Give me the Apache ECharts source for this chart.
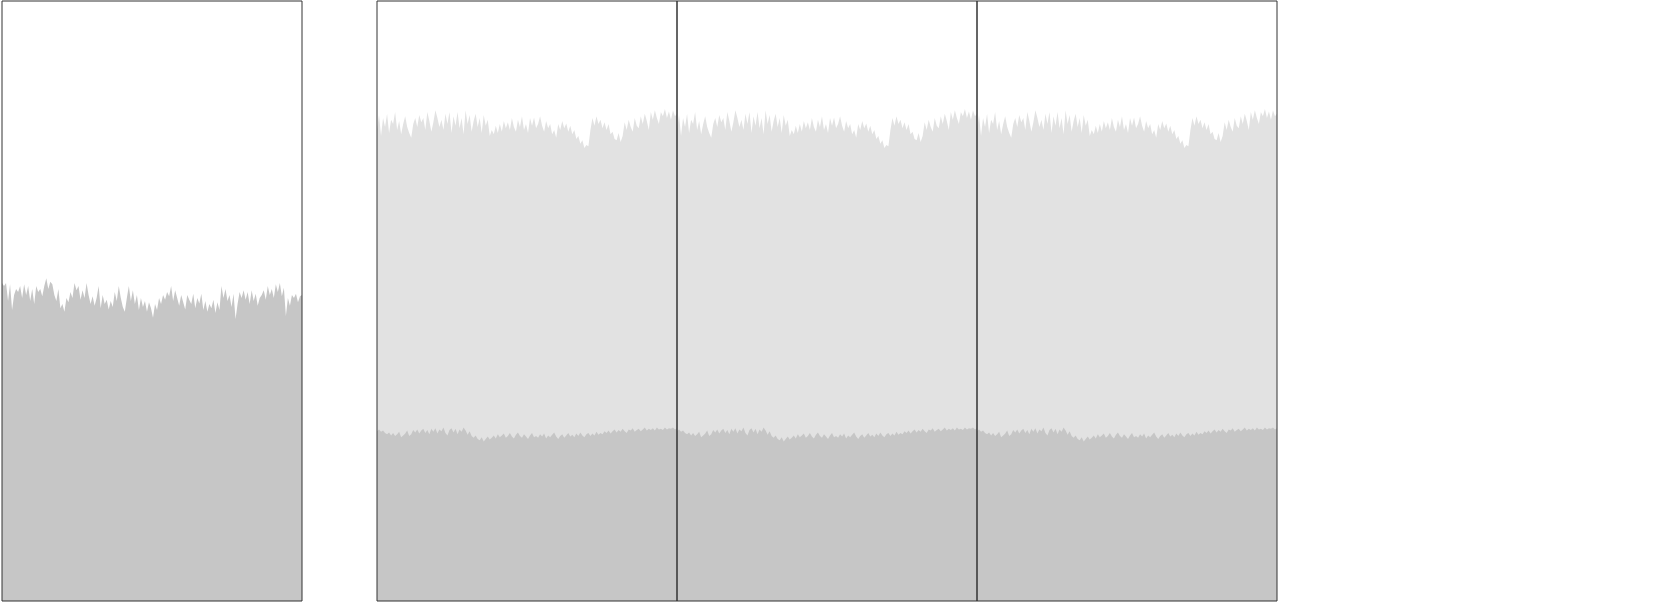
<!DOCTYPE html>
<html>
<head>
<meta charset="utf-8">
<script src="https://cdn.jsdelivr.net/npm/echarts@6/dist/echarts.min.js"></script>
<style>
html,body{margin:0;padding:0;background:#fff;}
#chart{width:1654px;height:603px;}
</style>
</head>
<body>
<div id="chart"></div>
<script>
// Panel 1: single area series
var singleValues = [
  53, 52.5, 53, 50, 52.8, 48.5, 51, 52, 51.5, 52.5, 50.5,
  52.8, 51, 52.5, 50, 52, 49.5, 52.5, 51.5, 52, 50.8,
  52.5, 53.8, 52, 53.2, 52.8, 51, 50, 52, 48.8, 49.5,
  48.2, 50.5, 49.8, 51.5, 50.5, 53, 51.8, 52.5, 50.2, 51.8,
  50.5, 53, 51, 49.5, 50.8, 49.2, 50.5, 52.5, 48.8, 51,
  49.5, 50.2, 48.6, 50, 49, 51.5, 50, 52.5, 50.5, 49,
  48.2, 50.5, 52.5, 50, 51.8, 49.5, 51, 48.5, 50.5, 49,
  50, 48.2, 49.8, 48.8, 47.2, 49.5, 48.5, 50.5, 49.5, 51,
  50.2, 51.5, 50.8, 52.5, 50, 51.8, 50.5, 49.2, 51, 49.8,
  48.6, 51, 50.2, 49.5, 51.2, 48.8, 50.5, 49.6, 51.2, 48.5,
  50, 48.2, 49.5, 48.8, 50.2, 48, 49.8, 48.5, 52.5, 50.5,
  52, 50, 51, 49, 51.2, 47, 49.5, 51.5, 50.5, 51.8,
  50.2, 51.5, 49.5, 51.8, 50, 51.2, 49.2, 50.5, 51, 51.8,
  50.2, 52.5, 51, 52, 50.5, 52.8, 51.5, 53, 50.8, 52.2,
  47.5, 50.5, 49.2, 51, 50.5, 51.2, 49.8, 50.8, 51
];

// Panels 2-4: upper (light) area top
var upperValues = [
  78.5, 81, 77.5, 80.5, 79, 81.2, 78, 80.2, 79.5, 81.5,
  78.5, 80, 77.8, 79.5, 80.8, 79, 78, 77.2, 79.5, 80.5,
  79, 81, 79.8, 80.5, 78.5, 81.5, 80, 78.2, 79.8, 81.8,
  80.5, 79, 80.2, 78.5, 81.2, 79.5, 81.5, 78, 80.8, 79.2,
  81.5, 78.8, 80.5, 77.8, 81.8, 79.5, 81, 78.2, 80, 81.2,
  79, 80.5, 78, 81, 79.2, 80.2, 77.5, 78.5, 77.8, 79.2,
  78, 79.5, 78.2, 80, 78.8, 79.8, 78.5, 80.5, 79, 78.2,
  80.2, 79, 80.8, 78.5, 79.5, 78, 80.5, 79.2, 80.6, 78.8,
  79.5, 80.8, 79.2, 78.2, 80, 78.8, 79.5, 77.8, 78.5, 77.2,
  79.5, 78.5, 80, 78.8, 79.6, 78.2, 79.2, 77.8, 78.5, 77,
  77.5, 76.2, 76.8, 75.5, 76, 75.8, 78.5, 80.5, 79.2, 80.8,
  79.5, 80.2, 78.8, 79.8, 78.5, 79.5, 77.8, 78.2, 77, 76.8,
  78, 76.5, 77.5, 79.8, 78.5, 80.2, 79, 78.2, 80.5, 79.2,
  78.8, 80.8, 79.5, 81.2, 80, 78.5, 81.5, 80.2, 81.8, 80.5,
  79.5, 81.5, 80.8, 82, 80.5, 81.6, 80.2, 81.8, 80.8, 81.2
];

// Panels 2-4: lower (dark) area top
var lowerValues = [
  28.3, 28.6, 28.2, 28.4, 28.0, 27.8, 28.1,
  27.6, 28.0, 27.5, 27.8, 28.2, 27.3, 27.6, 27.9, 28.4, 27.5,
  27.8, 28.5, 28.1, 28.6, 27.9, 28.4, 28.7, 28.0, 28.5, 27.8,
  28.7, 28.2, 28.8, 27.9, 28.6, 28.3, 28.9, 28.0, 27.6, 28.5,
  28.8, 28.1, 28.7, 27.8, 28.6, 28.2, 28.9, 28.4, 27.7, 28.3,
  27.5, 27.2, 27.6, 27.0, 26.8, 27.3, 26.6, 27.0, 27.4, 26.9, 27.2, 27.6, 27.1,
  27.8, 27.3, 27.6, 27.9, 27.2, 27.5, 28.0, 27.4, 27.1, 27.7,
  28.1, 27.5, 27.2, 27.8, 27.4, 27.0, 27.6, 28.0, 27.3, 27.5,
  27.2, 27.8, 27.4, 27.9, 27.1, 27.6, 27.3, 27.7, 28.1, 27.4,
  27.0, 27.5, 27.8, 27.2, 27.6, 28.0, 27.4, 27.7, 27.3, 27.9,
  27.5, 28.1, 27.6, 27.3, 27.8, 28.0, 27.5, 27.9, 27.6, 28.2,
  27.7, 28.0, 27.8, 28.3,
  28.0, 28.4, 27.9, 28.3, 28.6, 28.1, 28.5, 28.2, 28.7, 28.3,
  28.0, 28.6, 28.4, 28.8, 28.2, 28.5, 28.7, 28.3, 28.6, 28.9,
  28.4, 28.7, 28.5, 28.8, 28.4, 28.9, 28.6, 28.7, 28.5, 28.9,
  28.6, 28.8, 28.7, 28.9, 28.6, 28.8
];

function indexCats(arr) { return arr.map(function (_, i) { return String(i); }); }

var chart = echarts.init(document.getElementById('chart'), null, { renderer: 'canvas' });

var panelLefts = [2, 377, 677, 977];
var grids = panelLefts.map(function (l) {
  return { left: l, top: 1, width: 300, height: 600, show: true, z: 10, borderColor: '#333', borderWidth: 1, backgroundColor: 'transparent', containLabel: false };
});

var xAxes = [], yAxes = [], series = [];
function hiddenX(gridIndex, data) {
  return { type: 'category', gridIndex: gridIndex, data: data, boundaryGap: false,
    axisLine: { show: false }, axisTick: { show: false }, axisLabel: { show: false }, splitLine: { show: false } };
}
function hiddenY(gridIndex) {
  return { type: 'value', gridIndex: gridIndex, min: 0, max: 100,
    axisLine: { show: false }, axisTick: { show: false }, axisLabel: { show: false }, splitLine: { show: false } };
}
function areaSeries(xi, yi, data, color, z) {
  return { type: 'line', xAxisIndex: xi, yAxisIndex: yi, data: data, symbol: 'none', smooth: false,
    lineStyle: { width: 0, color: color }, itemStyle: { color: color },
    areaStyle: { color: color, opacity: 1 }, z: z, silent: true, animation: false };
}

// Panel 1
xAxes.push(hiddenX(0, indexCats(singleValues)));
yAxes.push(hiddenY(0));
series.push(areaSeries(0, 0, singleValues, '#c6c6c6', 2));

// Panels 2-4
for (var g = 1; g <= 3; g++) {
  var xu = xAxes.length;
  xAxes.push(hiddenX(g, indexCats(upperValues)));
  var xl = xAxes.length;
  xAxes.push(hiddenX(g, indexCats(lowerValues)));
  var yi = yAxes.length;
  yAxes.push(hiddenY(g));
  series.push(areaSeries(xu, yi, upperValues, '#e2e2e2', 2));
  series.push(areaSeries(xl, yi, lowerValues, '#c6c6c6', 3));
}

chart.setOption({
  backgroundColor: '#ffffff',
  animation: false,
  grid: grids,
  xAxis: xAxes,
  yAxis: yAxes,
  series: series
});
</script>
</body>
</html>
